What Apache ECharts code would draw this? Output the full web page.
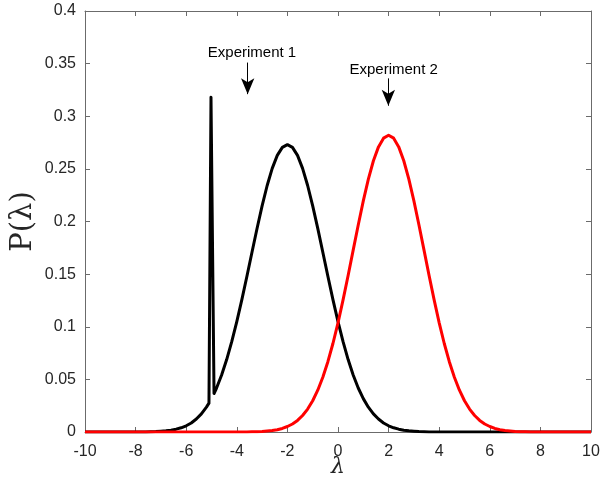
<!DOCTYPE html>
<html>
<head>
<meta charset="utf-8">
<script src="https://cdn.jsdelivr.net/npm/echarts@6/dist/echarts.min.js"></script>
<style>
html,body{margin:0;padding:0;background:#fff;}
#chart{width:606px;height:486px;}
</style>
</head>
<body>
<div id="chart"></div>
<script>
// Experiment 1 (black)
const lambdaExp1 = [-10, -7.6, -7.4, -7.2, -7.0, -6.8, -6.6, -6.4, -6.2, -6.0, -5.8, -5.6, -5.4, -5.2, -5.1, -5.02, -4.9,
  -4.8, -4.6, -4.4, -4.2, -4.0, -3.8, -3.6, -3.4, -3.2, -3.0, -2.8, -2.6, -2.4, -2.2, -2.0, -1.8, -1.6, -1.4, -1.2, -1.0,
  -0.8, -0.6, -0.4, -0.2, 0, 0.2, 0.4, 0.6, 0.8, 1.0, 1.2, 1.4, 1.6, 1.8, 2.0, 2.2, 2.4, 2.6, 2.8, 3.0, 3.2, 3.4, 3.6, 10];
const probExp1 = [0, 0, 0.0003, 0.0004, 0.0007, 0.0011, 0.0017, 0.0027, 0.0040, 0.0059, 0.0086, 0.0123, 0.0172, 0.0236, 0.0274, 0.318, 0.0365,
  0.0418, 0.0542, 0.0688, 0.0858, 0.1049, 0.1258, 0.1480, 0.1708, 0.1934, 0.2149, 0.2342, 0.2505, 0.2628, 0.2704, 0.2730, 0.2704, 0.2628, 0.2505, 0.2342, 0.2149,
  0.1934, 0.1708, 0.1480, 0.1258, 0.1049, 0.0858, 0.0688, 0.0542, 0.0418, 0.0317, 0.0236, 0.0172, 0.0123, 0.0086, 0.0059, 0.0040, 0.0027, 0.0017, 0.0011, 0.0007, 0.0004, 0.0003, 0, 0];

// Experiment 2 (red)
const lambdaExp2 = [-10, -3.6, -3.4, -3.2, -3.0, -2.8, -2.6, -2.4, -2.2, -2.0, -1.8, -1.6, -1.4, -1.2, -1.0, -0.8, -0.6, -0.4, -0.2, 0,
  0.2, 0.4, 0.6, 0.8, 1.0, 1.2, 1.4, 1.6, 1.8, 2.0, 2.2, 2.4, 2.6, 2.8, 3.0, 3.2, 3.4, 3.6, 3.8, 4.0,
  4.2, 4.4, 4.6, 4.8, 5.0, 5.2, 5.4, 5.6, 5.8, 6.0, 6.2, 6.4, 6.6, 6.8, 7.0, 7.2, 7.4, 7.6, 10];
const probExp2 = [0, 0, 0.0002, 0.0003, 0.0005, 0.0009, 0.0014, 0.0022, 0.0034, 0.0052, 0.0076, 0.0110, 0.0157, 0.0218, 0.0297, 0.0397, 0.0520, 0.0668, 0.0841, 0.1037,
  0.1255, 0.1487, 0.1728, 0.1967, 0.2196, 0.2403, 0.2577, 0.2709, 0.2792, 0.2820, 0.2792, 0.2709, 0.2577, 0.2403, 0.2196, 0.1967, 0.1728, 0.1487, 0.1255, 0.1037,
  0.0841, 0.0668, 0.0520, 0.0397, 0.0297, 0.0218, 0.0157, 0.0110, 0.0076, 0.0052, 0.0034, 0.0022, 0.0014, 0.0009, 0.0005, 0.0003, 0.0002, 0, 0];

// Annotations (data coordinates)
const annotationLabels = ['Experiment 1', 'Experiment 2'];
const annotationTextPos = [[-3.4, 0.360], [2.2, 0.344]];
const annotationArrows = [[-3.57, 0.351, 0.321], [1.99, 0.336, 0.310]]; // [x, tailY, tipY]

const xTicks = { min: -10, max: 10, interval: 2 };
const yTicks = { min: 0, max: 0.4, interval: 0.05 };

function pairs(xs, ys) { return xs.map((x, i) => [x, ys[i]]); }

const axisColor = '#6b6b6b';
const tickFont = { fontFamily: 'Liberation Sans, Arial, sans-serif', fontSize: 16, color: '#262626' };

const chart = echarts.init(document.getElementById('chart'), null, { renderer: 'canvas' });
chart.setOption({
  animation: false,
  backgroundColor: '#ffffff',
  grid: { left: 85, right: 15, top: 11, bottom: 54, containLabel: false, outerBoundsMode: 'none' },
  xAxis: [{
    type: 'value', min: xTicks.min, max: xTicks.max, interval: xTicks.interval,
    position: 'bottom',
    axisLine: { show: true, onZero: false, lineStyle: { color: axisColor, width: 1 } },
    axisTick: { show: true, inside: true, length: 5, lineStyle: { color: axisColor } },
    axisLabel: Object.assign({ margin: 12 }, tickFont),
    splitLine: { show: false },
    name: 'λ', nameLocation: 'middle', nameGap: 24, nameMoveOverlap: false,
    nameTextStyle: { fontFamily: 'DejaVu Serif, Liberation Serif, serif', fontStyle: 'italic', fontSize: 22, color: '#262626' }
  }, {
    type: 'value', min: xTicks.min, max: xTicks.max, interval: xTicks.interval,
    position: 'top',
    axisLine: { show: true, onZero: false, lineStyle: { color: axisColor, width: 1 } },
    axisTick: { show: true, inside: true, length: 5, lineStyle: { color: axisColor } },
    axisLabel: { show: false },
    splitLine: { show: false }
  }],
  yAxis: [{
    type: 'value', min: yTicks.min, max: yTicks.max, interval: yTicks.interval,
    position: 'left',
    axisLine: { show: true, onZero: false, lineStyle: { color: axisColor, width: 1 } },
    axisTick: { show: true, inside: true, length: 5, lineStyle: { color: axisColor } },
    axisLabel: Object.assign({ margin: 9 }, tickFont),
    splitLine: { show: false },
    name: 'P(λ)', nameLocation: 'middle', nameGap: 47, nameRotate: 90, nameMoveOverlap: false,
    nameTextStyle: { fontFamily: 'DejaVu Serif, Liberation Serif, serif', fontSize: 29, color: '#262626' }
  }, {
    type: 'value', min: yTicks.min, max: yTicks.max, interval: yTicks.interval,
    position: 'right',
    axisLine: { show: true, onZero: false, lineStyle: { color: axisColor, width: 1 } },
    axisTick: { show: true, inside: true, length: 5, lineStyle: { color: axisColor } },
    axisLabel: { show: false },
    splitLine: { show: false }
  }],
  series: [{
    name: 'Experiment 1', type: 'line', data: pairs(lambdaExp1, probExp1),
    showSymbol: false, symbol: 'none', smooth: false,
    lineStyle: { color: '#000000', width: 3, join: 'round' },
    z: 2,
    markLine: {
      silent: true, symbol: ['none', 'arrow'],
      lineStyle: { color: '#000000', width: 1, type: 'solid' },
      itemStyle: { color: '#000000' },
      label: { show: false },
      emphasis: { disabled: true },
      data: annotationArrows.map(a => [
        { coord: [a[0], a[1]], symbol: 'none' },
        { coord: [a[0], a[2]], symbol: 'arrow', symbolSize: [10, 16] }
      ])
    },
    markPoint: {
      silent: true, symbol: 'circle', symbolSize: 0,
      itemStyle: { color: 'transparent' },
      label: { show: true, position: 'inside', color: '#000', fontFamily: 'Liberation Sans, Arial, sans-serif', fontSize: 15,
        formatter: p => p.name },
      data: annotationLabels.map((t, i) => ({ name: t, coord: annotationTextPos[i] }))
    }
  }, {
    name: 'Experiment 2', type: 'line', data: pairs(lambdaExp2, probExp2),
    showSymbol: false, symbol: 'none', smooth: false,
    lineStyle: { color: '#ff0000', width: 3, join: 'round' },
    z: 3
  }]
});
</script>
</body>
</html>
